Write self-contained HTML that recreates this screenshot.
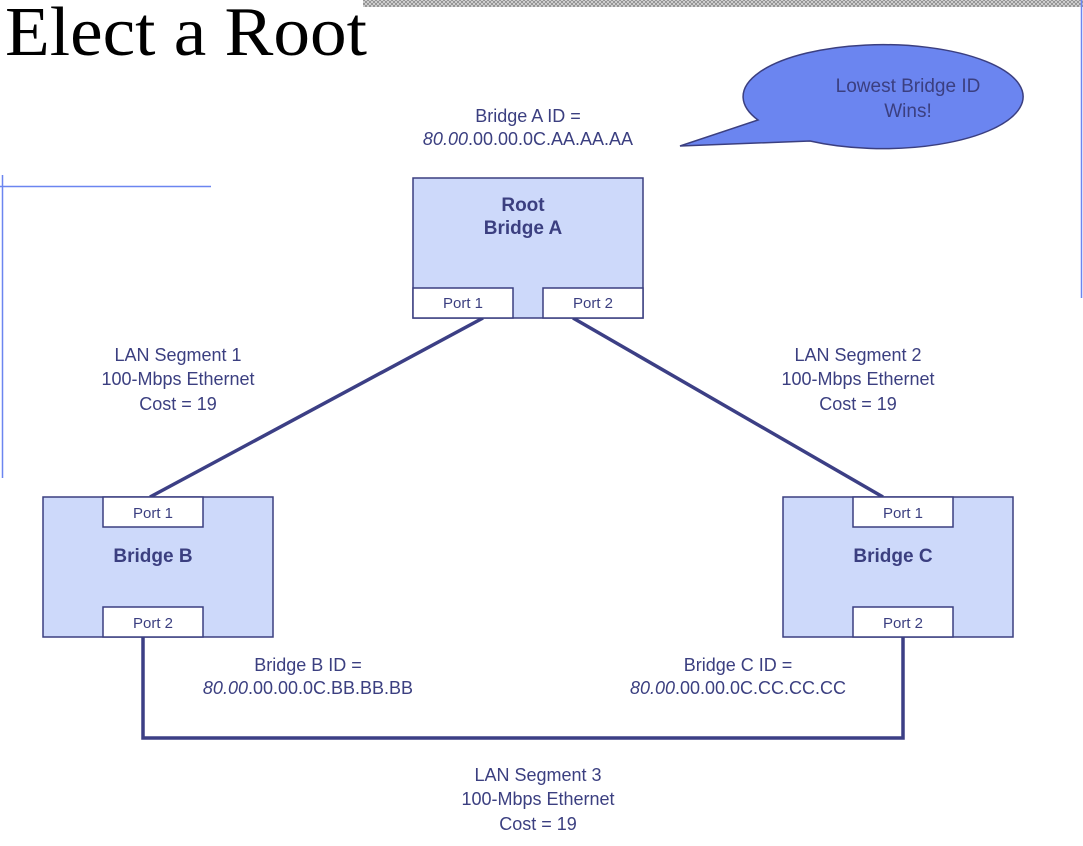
<!DOCTYPE html>
<html><head><meta charset="utf-8"><style>
html,body{margin:0;padding:0;background:#fff;width:1083px;height:846px;overflow:hidden}
svg text{font-family:"Liberation Sans",sans-serif;fill:#3b3f80}
</style></head><body>
<svg width="1083" height="846" viewBox="0 0 1083 846" xmlns="http://www.w3.org/2000/svg">
<defs><pattern id="hatch" width="4" height="4" patternUnits="userSpaceOnUse"><rect width="4" height="4" fill="#ddd"/><path d="M0 0L4 4M4 0L0 4" stroke="#888" stroke-width="0.8"/></pattern></defs>
<rect x="363" y="0" width="720" height="7" fill="url(#hatch)"/>
<line x1="1081.5" y1="0" x2="1081.5" y2="298" stroke="#6b85f0" stroke-width="1.5"/>
<line x1="0" y1="186.5" x2="211" y2="186.5" stroke="#6b85f0" stroke-width="1.5"/>
<line x1="2.5" y1="175" x2="2.5" y2="478" stroke="#6b85f0" stroke-width="1.5"/>
<text x="5" y="55" textLength="362" lengthAdjust="spacingAndGlyphs" style="font-family:'Liberation Serif',serif;font-size:70px;fill:#000">Elect a Root</text>
<path d="M758,120 A140,52 0 1 1 810,141 L680,146 Z" fill="#6b85f0" stroke="#3b3f80" stroke-width="1.5"/>
<text x="908" y="92" font-size="19" text-anchor="middle">Lowest Bridge ID</text>
<text x="908" y="117" font-size="19" text-anchor="middle">Wins!</text>
<text x="528" y="122" font-size="18" text-anchor="middle">Bridge A ID =</text>
<text x="528" y="145" font-size="18" text-anchor="middle"><tspan font-style="italic">80.00</tspan>.00.00.0C.AA.AA.AA</text>
<g stroke="#3c3f85" stroke-width="3.5" fill="none">
<line x1="483" y1="318" x2="150" y2="497"/>
<line x1="573" y1="318" x2="883" y2="497"/>
<polyline points="143,637 143,738 903,738 903,637"/>
</g>
<g stroke="#3b3f80" stroke-width="1.5">
<rect x="413" y="178" width="230" height="140" fill="#cdd9fa"/>
<rect x="413" y="288" width="100" height="30" fill="#fff"/>
<rect x="543" y="288" width="100" height="30" fill="#fff"/>
<rect x="43" y="497" width="230" height="140" fill="#cdd9fa"/>
<rect x="103" y="497" width="100" height="30" fill="#fff"/>
<rect x="103" y="607" width="100" height="30" fill="#fff"/>
<rect x="783" y="497" width="230" height="140" fill="#cdd9fa"/>
<rect x="853" y="497" width="100" height="30" fill="#fff"/>
<rect x="853" y="607" width="100" height="30" fill="#fff"/>
</g>
<g font-size="15" text-anchor="middle">
<text x="463" y="308">Port 1</text><text x="593" y="308">Port 2</text>
<text x="153" y="518">Port 1</text><text x="153" y="628">Port 2</text>
<text x="903" y="518">Port 1</text><text x="903" y="628">Port 2</text>
</g>
<g font-size="19" font-weight="bold" text-anchor="middle">
<text x="523" y="211">Root</text><text x="523" y="234">Bridge A</text>
<text x="153" y="562">Bridge B</text><text x="893" y="562">Bridge C</text>
</g>
<g font-size="18" text-anchor="middle">
<text x="178" y="361">LAN Segment 1</text><text x="178" y="385">100-Mbps Ethernet</text><text x="178" y="410">Cost = 19</text>
<text x="858" y="361">LAN Segment 2</text><text x="858" y="385">100-Mbps Ethernet</text><text x="858" y="410">Cost = 19</text>
<text x="538" y="781">LAN Segment 3</text><text x="538" y="805">100-Mbps Ethernet</text><text x="538" y="830">Cost = 19</text>
<text x="308" y="671">Bridge B ID =</text>
<text x="308" y="694"><tspan font-style="italic">80.00</tspan>.00.00.0C.BB.BB.BB</text>
<text x="738" y="671">Bridge C ID =</text>
<text x="738" y="694"><tspan font-style="italic">80.00</tspan>.00.00.0C.CC.CC.CC</text>
</g>
</svg>
</body></html>
